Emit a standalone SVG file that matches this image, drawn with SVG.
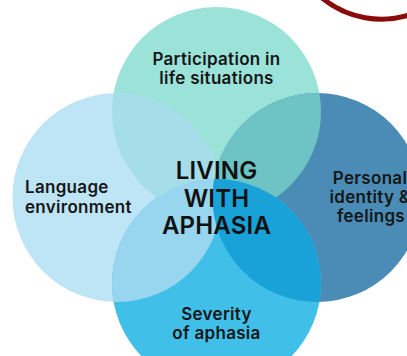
<svg xmlns="http://www.w3.org/2000/svg" width="407" height="356" viewBox="0 0 407 356">
  <defs>
    <style>
      .lbl { font-family: Inter, "Noto Sans", "Liberation Sans", sans-serif; font-size: 17px; font-weight: 600; fill: #161616; text-anchor: middle; letter-spacing: 0.3px; }
      .ctr { font-family: Inter, "Noto Sans", "Liberation Sans", sans-serif; font-size: 24px; font-weight: 600; fill: #111; text-anchor: middle; letter-spacing: 0.2px; }
    </style>
    <clipPath id="cLeft"><circle cx="117" cy="197.5" r="104.5"/></clipPath>
    <clipPath id="cRight"><circle cx="317" cy="197.5" r="104.5"/></clipPath>
  </defs>
  <rect width="407" height="356" fill="#ffffff"/>
  <path d="M 322 -2 A 94 94 0 0 0 412 14" fill="none" stroke="#8a0b0b" stroke-width="5"/>
  <g id="participation">
    <circle cx="216.5" cy="111.5" r="104.5" fill="#9be3d9"/>
  </g>
  <g id="language">
    <circle cx="117" cy="197.5" r="104.5" fill="#bee5f6"/>
  </g>
  <g id="personal">
    <circle cx="317" cy="197.5" r="104.5" fill="#4a8cb6"/>
  </g>
  <g id="severity">
    <circle cx="216.5" cy="283.5" r="104.5" fill="#40bfe8"/>
  </g>
  <g id="overlaps">
    <circle cx="216.5" cy="111.5" r="104.5" fill="#a5dde9" clip-path="url(#cLeft)"/>
    <circle cx="216.5" cy="111.5" r="104.5" fill="#6ec4c5" clip-path="url(#cRight)"/>
    <circle cx="216.5" cy="283.5" r="104.5" fill="#98d5ef" clip-path="url(#cLeft)"/>
    <circle cx="216.5" cy="283.5" r="104.5" fill="#18a2d8" clip-path="url(#cRight)"/>
  </g>
  <g id="connectors"/>
  <g id="labels">
    <text class="lbl" x="216.5" y="65">Participation in</text>
    <text class="lbl" x="216.5" y="84">life situations</text>
    <text class="lbl" x="25" y="193" style="text-anchor:start">Language</text>
    <text class="lbl" x="25" y="213" style="text-anchor:start">environment</text>
    <text class="lbl" x="370" y="184">Personal</text>
    <text class="lbl" x="370" y="203">identity &amp;</text>
    <text class="lbl" x="371" y="222">feelings</text>
    <text class="lbl" x="216.5" y="320">Severity</text>
    <text class="lbl" x="216.5" y="339">of aphasia</text>
  </g>
  <g id="center">
    <text class="ctr" x="216.5" y="179">LIVING</text>
    <text class="ctr" x="216.5" y="206.5">WITH</text>
    <text class="ctr" x="216.5" y="234">APHASIA</text>
  </g>
</svg>
